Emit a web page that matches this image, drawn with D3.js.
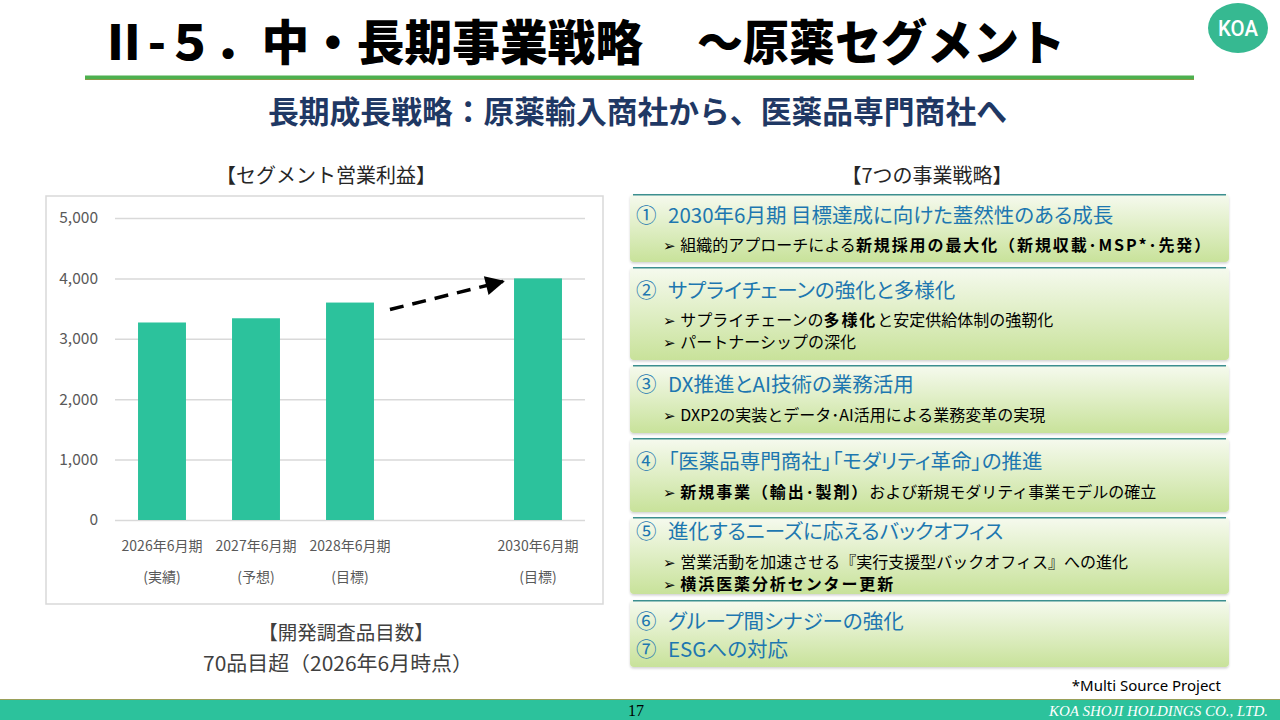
<!DOCTYPE html>
<html>
<head>
<meta charset="utf-8">
<script src="https://cdn.jsdelivr.net/npm/d3@7"></script>
<style>
  body { margin: 0; background: #fff; }
  svg { display: block; font-family: "Noto Sans CJK JP", "Noto Sans", sans-serif; }
  .palt { font-feature-settings: "palt" 1; }
</style>
</head>
<body>
<div id="slide"></div>
<script>
// Chart data: segment operating profit (million yen)
var periods = ["2026年6月期", "2027年6月期", "2028年6月期", "2029年6月期", "2030年6月期"];
var statusLabels = ["(実績)", "(予想)", "(目標)", "", "(目標)"];
var profits = [3270, 3340, 3600, null, 4000];
var yTicks = [0, 1000, 2000, 3000, 4000, 5000];

// Strategy boxes text
var headings = [
  ["①", "2030年6月期 目標達成に向けた蓋然性のある成長"],
  ["②", "サプライチェーンの強化と多様化"],
  ["③", "DX推進とAI技術の業務活用"],
  ["④", "「医薬品専門商社」「モダリティ革命」の推進"],
  ["⑤", "進化するニーズに応えるバックオフィス"],
  ["⑥", "グループ間シナジーの強化"],
  ["⑦", "ESGへの対応"]
];
// each bullet: list of [text, bold]
var bullets = [
  [[["組織的アプローチによる", false], ["新規採用の最大化（新規収載･MSP*･先発）", true]]],
  [[["サプライチェーンの", false], ["多様化", true], ["と安定供給体制の強靭化", false]],
   [["パートナーシップの深化", false]]],
  [[["DXP2の実装とデータ･AI活用による業務変革の実現", false]]],
  [[["新規事業（輸出･製剤）", true], ["および新規モダリティ事業モデルの確立", false]]],
  [[["営業活動を加速させる『実行支援型バックオフィス』への進化", false]],
   [["横浜医薬分析センター更新", true]]],
  []
];

var svg = d3.select("#slide")
  .append("svg")
  .attr("width", 1280)
  .attr("height", 720);

var defs = svg.append("defs");
var grad = defs.append("linearGradient")
  .attr("id", "boxGrad")
  .attr("x1", 0).attr("y1", 0).attr("x2", 0).attr("y2", 1);
grad.append("stop").attr("offset", "0%").attr("stop-color", "#f6faef");
grad.append("stop").attr("offset", "100%").attr("stop-color", "#c8e29a");

var shadow = defs.append("filter").attr("id", "shadow")
  .attr("x", "-5%").attr("y", "-10%").attr("width", "110%").attr("height", "130%");
shadow.append("feDropShadow")
  .attr("dx", 0).attr("dy", 1.5).attr("stdDeviation", 1.2)
  .attr("flood-color", "#000").attr("flood-opacity", 0.18);

var arrowMarker = defs.append("marker")
  .attr("id", "arrowHead")
  .attr("viewBox", "0 0 10 10")
  .attr("refX", 9).attr("refY", 5)
  .attr("markerWidth", 6).attr("markerHeight", 5.5)
  .attr("markerUnits", "strokeWidth")
  .attr("orient", "auto");
arrowMarker.append("path").attr("d", "M0,0 L10,5 L0,10 z").attr("fill", "#000");

// ---------- Header ----------
svg.append("text")
  .attr("x", 100).attr("y", 60)
  .attr("font-size", 48)
  .attr("font-weight", 900)
  .attr("fill", "#000")
  .attr("textLength", 543)
  .attr("lengthAdjust", "spacingAndGlyphs")
  .text("Ⅱ-５．中・長期事業戦略");
svg.append("text")
  .attr("x", 697).attr("y", 60)
  .attr("font-size", 48)
  .attr("font-weight", 900)
  .attr("fill", "#000")
  .attr("textLength", 368)
  .attr("lengthAdjust", "spacingAndGlyphs")
  .text("～原薬セグメント");

svg.append("rect")
  .attr("x", 85).attr("y", 75.5).attr("width", 1109).attr("height", 4)
  .attr("fill", "#4db04f");
svg.append("line")
  .attr("x1", 85).attr("x2", 1194).attr("y1", 79.5).attr("y2", 79.5)
  .attr("stroke", "#8a9a48").attr("stroke-width", 1);

svg.append("ellipse")
  .attr("cx", 1238).attr("cy", 28).attr("rx", 30).attr("ry", 25)
  .attr("fill", "#36b991");
svg.append("text")
  .attr("x", 1238).attr("y", 36)
  .attr("text-anchor", "middle")
  .attr("font-family", "Roboto, sans-serif")
  .attr("font-size", 22)
  .attr("font-weight", 500)
  .attr("fill", "#fff")
  .attr("textLength", 40)
  .attr("lengthAdjust", "spacingAndGlyphs")
  .text("KOA");

svg.append("text")
  .attr("x", 637.5).attr("y", 123)
  .attr("text-anchor", "middle")
  .attr("font-size", 31)
  .attr("font-weight", 700)
  .attr("fill", "#1f3864")
  .attr("textLength", 739)
  .attr("lengthAdjust", "spacingAndGlyphs")
  .text("長期成長戦略：原薬輸入商社から、医薬品専門商社へ");

// ---------- Left chart ----------
svg.append("text")
  .attr("x", 326).attr("y", 183)
  .attr("text-anchor", "middle")
  .attr("font-size", 20)
  .attr("fill", "#262626")
  .text("【セグメント営業利益】");

svg.append("rect")
  .attr("x", 46).attr("y", 196).attr("width", 557).attr("height", 408)
  .attr("fill", "#fff")
  .attr("stroke", "#d9d9d9").attr("stroke-width", 1.5);

var chartLeft = 115, chartRight = 585, chartTop = 218, chartBottom = 520;

var x = d3.scaleBand()
  .domain(periods)
  .range([chartLeft, chartRight])
  .paddingInner(0.49)
  .paddingOuter(0.245);

var y = d3.scaleLinear()
  .domain([0, 5000])
  .range([chartBottom, chartTop]);

var chartGroup = svg.append("g");

var leftAxis = d3.axisLeft(y)
  .tickValues(yTicks)
  .tickFormat(d3.format(","))
  .tickSize(-(chartRight - chartLeft))
  .tickPadding(17);

var yAxisG = chartGroup.append("g")
  .attr("transform", "translate(" + chartLeft + ",0)")
  .call(leftAxis);
yAxisG.select(".domain").remove();
yAxisG.selectAll(".tick line").attr("stroke", "#d9d9d9").attr("stroke-width", 1.5);
yAxisG.selectAll(".tick text")
  .attr("fill", "#595959")
  .attr("font-size", 15.5)
  .attr("font-family", "Noto Sans CJK JP, sans-serif");

var barData = periods.map(function(p, i) {
  return { period: p, value: profits[i], status: statusLabels[i] };
}).filter(function(d) { return d.value != null; });

chartGroup.selectAll("rect.bar")
  .data(barData)
  .enter()
  .append("rect")
  .attr("class", "bar")
  .attr("x", d => x(d.period))
  .attr("y", d => y(d.value))
  .attr("width", x.bandwidth())
  .attr("height", d => y(0) - y(d.value))
  .attr("fill", "#2cc29c");

// category labels, two lines
var labelG = chartGroup.selectAll(".xlab")
  .data(barData)
  .enter()
  .append("g")
  .attr("class", "xlab")
  .attr("transform", d => "translate(" + (x(d.period) + x.bandwidth() / 2) + ",0)");
labelG.append("text")
  .attr("y", 551)
  .attr("text-anchor", "middle")
  .attr("font-size", 14)
  .attr("fill", "#595959")
  .text(d => d.period);
labelG.append("text")
  .attr("y", 582)
  .attr("text-anchor", "middle")
  .attr("font-size", 14)
  .attr("fill", "#595959")
  .text(d => d.status);

// dashed growth arrow from 2028 bar to 2030 bar
var fromBar = barData[2], toBar = barData[3];
chartGroup.append("line")
  .attr("x1", x(fromBar.period) + x.bandwidth() + 16)
  .attr("y1", y(fromBar.value) + 7)
  .attr("x2", x(toBar.period) - 11)
  .attr("y2", y(toBar.value) + 3)
  .attr("stroke", "#000")
  .attr("stroke-width", 3.5)
  .attr("stroke-dasharray", "14,9")
  .attr("marker-end", "url(#arrowHead)");

svg.append("text")
  .attr("x", 346).attr("y", 640)
  .attr("text-anchor", "middle")
  .attr("font-size", 19.5)
  .attr("fill", "#404040")
  .text("【開発調査品目数】");
svg.append("text")
  .attr("x", 338).attr("y", 671)
  .attr("text-anchor", "middle")
  .attr("font-size", 20)
  .attr("fill", "#404040")
  .attr("textLength", 270)
  .attr("lengthAdjust", "spacingAndGlyphs")
  .text("70品目超（2026年6月時点）");

// ---------- Right strategy boxes ----------
svg.append("text")
  .attr("x", 927).attr("y", 183)
  .attr("text-anchor", "middle")
  .attr("font-size", 20)
  .attr("fill", "#262626")
  .text("【7つの事業戦略】");

var boxTops = [194, 267, 365, 438, 517, 600];
var boxBottoms = [262, 360, 433, 512, 594, 667];
var headingY = [[223], [298], [392], [469], [539], [629, 657]];
var bulletY = [[251], [326, 348], [421], [498], [568, 590], []];

var boxes = svg.append("g");
boxTops.forEach(function(top, i) {
  var g = boxes.append("g");
  g.append("rect")
    .attr("x", 630).attr("y", top)
    .attr("width", 599).attr("height", boxBottoms[i] - top)
    .attr("rx", 4)
    .attr("fill", "url(#boxGrad)")
    .attr("filter", "url(#shadow)");
  g.append("line")
    .attr("x1", 633).attr("x2", 1226)
    .attr("y1", top + 0.8).attr("y2", top + 0.8)
    .attr("stroke", "#3c8f8f").attr("stroke-width", 1.6);

  var hs = i < 5 ? [headings[i]] : [headings[5], headings[6]];
  hs.forEach(function(h, j) {
    g.append("text")
      .attr("x", 636).attr("y", headingY[i][j])
      .attr("font-size", 20.5)
      .attr("fill", "#1d77b0")
      .text(h[0]);
    g.append("text")
      .attr("class", "palt")
      .attr("x", 668).attr("y", headingY[i][j])
      .attr("font-size", 20.5)
      .attr("fill", "#1d77b0")
      .text(h[1]);
  });

  bullets[i].forEach(function(parts, j) {
    var t = g.append("text")
      .attr("x", 663).attr("y", bulletY[i][j])
      .attr("font-size", 16)
      .attr("fill", "#000");
    t.append("tspan")
      .attr("font-family", "DejaVu Sans, sans-serif")
      .attr("font-size", 15)
      .text("➢ ");
    parts.forEach(function(p) {
      t.append("tspan")
        .attr("font-weight", p[1] ? 700 : 400)
        .attr("letter-spacing", p[1] ? 1.9 : 0)
        .text(p[0]);
    });
  });
});

svg.append("text")
  .attr("x", 1221).attr("y", 691)
  .attr("text-anchor", "end")
  .attr("font-size", 15)
  .attr("font-family", "Noto Sans, sans-serif")
  .attr("fill", "#000")
  .text("*Multi Source Project");

// ---------- Footer ----------
svg.append("rect")
  .attr("x", 0).attr("y", 699).attr("width", 1280).attr("height", 21)
  .attr("fill", "#2cc29c");
svg.append("line")
  .attr("x1", 0).attr("x2", 1280).attr("y1", 699.5).attr("y2", 699.5)
  .attr("stroke", "#9aa05a").attr("stroke-width", 1);
svg.append("text")
  .attr("x", 636).attr("y", 716)
  .attr("text-anchor", "middle")
  .attr("font-family", "Liberation Serif, serif")
  .attr("font-size", 16)
  .attr("fill", "#000")
  .text("17");
svg.append("text")
  .attr("x", 1268).attr("y", 716)
  .attr("text-anchor", "end")
  .attr("font-family", "Liberation Serif, serif")
  .attr("font-style", "italic")
  .attr("font-size", 15)
  .attr("fill", "#fff")
  .text("KOA SHOJI HOLDINGS CO., LTD.");
</script>
</body>
</html>
